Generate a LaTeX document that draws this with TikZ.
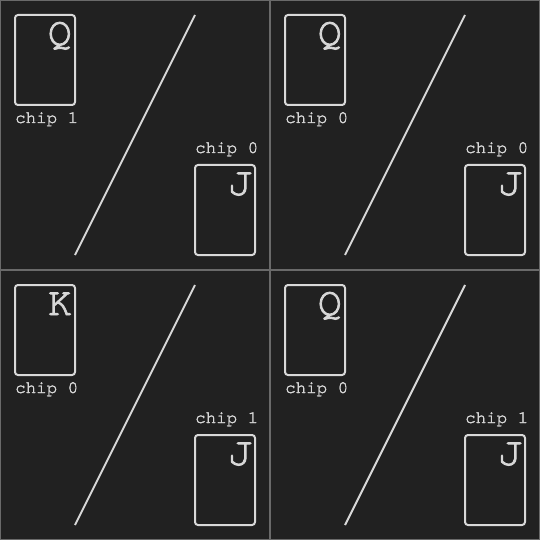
\documentclass[tikz,border=0pt]{standalone}
\usepackage{fontspec}
\newfontfamily\labfont[FakeBold=2]{TeX Gyre Cursor}
\newfontfamily\letfont[FakeBold=2]{TeX Gyre Cursor}
\definecolor{bg}{HTML}{212121}
\definecolor{fg}{HTML}{D8D8D8}
\definecolor{grid}{HTML}{6A6A6A}
\newcommand\panel[6]{%
  \begin{scope}[shift={(#1,#2)}]
    \draw[gridline] (0.5,0.5) rectangle (269.5,269.5);
    \node[card] (#6a) at (45,60) {};
    \node[letter] (#6al) at ([xshift=-3pt,yshift=-30pt]#6a.north east) {#3};
    \node[lab] (#6ab) at (15,123) {#4};
    \coordinate (#6s) at (75,255);
    \coordinate (#6e) at (195,15);
    \draw[slash] (#6s) -- (#6e);
    \node[lab] (#6bt) at (195,153) {#5};
    \node[card] (#6b) at (225,210) {};
    \node[letter] (#6bl) at ([xshift=-3pt,yshift=-30pt]#6b.north east) {J};
  \end{scope}}
\begin{document}
\begin{tikzpicture}[x=1pt,y=-1pt,
  gridline/.style={draw=grid, line width=1pt},
  card/.style={draw=fg, line width=2pt, rounded corners=3pt, minimum width=60pt, minimum height=90pt, inner sep=0pt, outer sep=0pt},
  letter/.style={anchor=base east, inner sep=0pt, text=fg, font=\letfont\fontsize{40}{40}\selectfont},
  lab/.style={anchor=base west, inner sep=0pt, text=fg, font=\labfont\fontsize{17.5}{17.5}\selectfont},
  slash/.style={draw=fg, line width=2pt}]
\fill[bg] (0,0) rectangle (540,540);
\useasboundingbox (0,0) rectangle (540,540);
\panel{0}{0}{Q}{chip 1}{chip 0}{p}
\panel{270}{0}{Q}{chip 0}{chip 0}{q}
\panel{0}{270}{K}{chip 0}{chip 1}{r}
\panel{270}{270}{Q}{chip 0}{chip 1}{s}
\end{tikzpicture}
\end{document}
